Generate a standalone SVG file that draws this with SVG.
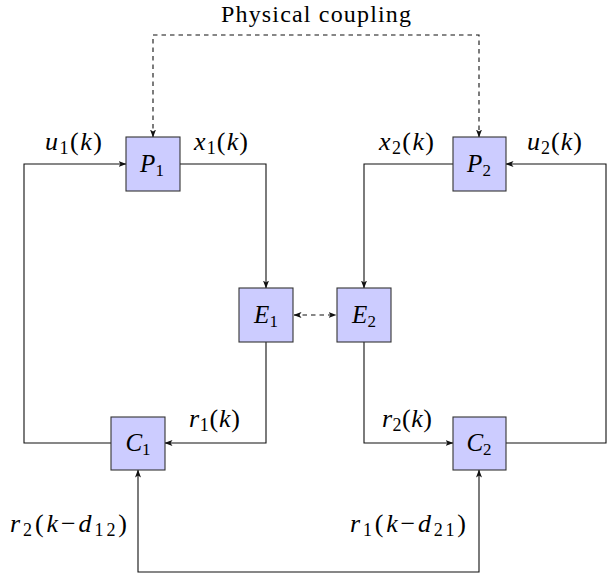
<svg xmlns="http://www.w3.org/2000/svg" width="613" height="579" viewBox="0 0 613 579">
<style>
.box{fill:#ccccff;stroke:#333;stroke-width:1.1}
.ln{fill:none;stroke:#111;stroke-width:1.1}
.dash{fill:none;stroke:#111;stroke-width:1.1;stroke-dasharray:4.5,4}
</style>
<defs>
<marker id="ah" viewBox="0 0 8 8" refX="7.5" refY="4" markerWidth="8" markerHeight="8" markerUnits="userSpaceOnUse" orient="auto-start-reverse">
<path d="M0,1 L8,4 L0,7 L2,4 Z" fill="#111"/>
</marker>
</defs>
<text x="221" y="22" font-family="Liberation Serif" font-size="24" textLength="190" lengthAdjust="spacing">Physical coupling</text>
<g id="connectors">
<path class="dash" d="M153,137 V35 H479 V137" marker-start="url(#ah)" marker-end="url(#ah)"/>
<path class="ln" d="M111,443 H24 V164 H126" marker-end="url(#ah)"/>
<path class="ln" d="M180,164 H266 V288" marker-end="url(#ah)"/>
<path class="ln" d="M266,342 V443 H165" marker-end="url(#ah)"/>
<path class="ln" d="M453,164 H364 V288" marker-end="url(#ah)"/>
<path class="ln" d="M364,342 V443 H453" marker-end="url(#ah)"/>
<path class="ln" d="M506,443 H606 V164 H506" marker-end="url(#ah)"/>
<path class="ln" d="M138,470 V572 H479 V470" marker-start="url(#ah)" marker-end="url(#ah)"/>
<path class="dash" d="M294,315 H336" marker-start="url(#ah)" marker-end="url(#ah)"/>
</g>
<g id="P1"><rect class="box" x="126" y="137" width="54" height="54"/><text x="152" y="172" font-family="Liberation Serif" font-size="25" text-anchor="middle"><tspan font-style="italic">P</tspan><tspan dy="4" font-size="17">1</tspan></text></g>
<g id="P2"><rect class="box" x="453" y="137" width="53" height="54"/><text x="479" y="172" font-family="Liberation Serif" font-size="25" text-anchor="middle"><tspan font-style="italic">P</tspan><tspan dy="4" font-size="17">2</tspan></text></g>
<g id="E1"><rect class="box" x="239" y="288" width="54" height="54"/><text x="266" y="323" font-family="Liberation Serif" font-size="25" text-anchor="middle"><tspan font-style="italic">E</tspan><tspan dy="4" font-size="17">1</tspan></text></g>
<g id="E2"><rect class="box" x="337" y="288" width="54" height="54"/><text x="364" y="323" font-family="Liberation Serif" font-size="25" text-anchor="middle"><tspan font-style="italic">E</tspan><tspan dy="4" font-size="17">2</tspan></text></g>
<g id="C1"><rect class="box" x="111" y="417" width="54" height="53"/><text x="138" y="451" font-family="Liberation Serif" font-size="25" text-anchor="middle"><tspan font-style="italic">C</tspan><tspan dy="4" font-size="17">1</tspan></text></g>
<g id="C2"><rect class="box" x="453" y="417" width="53" height="53"/><text x="479" y="451" font-family="Liberation Serif" font-size="25" text-anchor="middle"><tspan font-style="italic">C</tspan><tspan dy="4" font-size="17">2</tspan></text></g>
<g id="labels" font-family="Liberation Serif" font-size="26">
<text x="45" y="150" font-family="Liberation Serif" textLength="57" lengthAdjust="spacing"><tspan font-style="italic">u</tspan><tspan font-size="18" dy="4">1</tspan><tspan dy="-4">(</tspan><tspan font-style="italic">k</tspan>)</text>
<text x="194" y="150" font-family="Liberation Serif" textLength="54" lengthAdjust="spacing"><tspan font-style="italic">x</tspan><tspan font-size="18" dy="4">1</tspan><tspan dy="-4">(</tspan><tspan font-style="italic">k</tspan>)</text>
<text x="379" y="150" font-family="Liberation Serif" textLength="55" lengthAdjust="spacing"><tspan font-style="italic">x</tspan><tspan font-size="18" dy="4">2</tspan><tspan dy="-4">(</tspan><tspan font-style="italic">k</tspan>)</text>
<text x="527" y="150" font-family="Liberation Serif" textLength="55" lengthAdjust="spacing"><tspan font-style="italic">u</tspan><tspan font-size="18" dy="4">2</tspan><tspan dy="-4">(</tspan><tspan font-style="italic">k</tspan>)</text>
<text x="189" y="427" font-family="Liberation Serif" textLength="51" lengthAdjust="spacing"><tspan font-style="italic">r</tspan><tspan font-size="18" dy="4">1</tspan><tspan dy="-4">(</tspan><tspan font-style="italic">k</tspan>)</text>
<text x="382" y="427" font-family="Liberation Serif" textLength="50" lengthAdjust="spacing"><tspan font-style="italic">r</tspan><tspan font-size="18" dy="4">2</tspan><tspan dy="-4">(</tspan><tspan font-style="italic">k</tspan>)</text>
<text x="10" y="532" font-family="Liberation Serif" textLength="117" lengthAdjust="spacing"><tspan font-style="italic">r</tspan><tspan font-size="18" dy="4">2</tspan><tspan dy="-4">(</tspan><tspan font-style="italic">k</tspan>&#8722;<tspan font-style="italic">d</tspan><tspan font-size="18" dy="4">12</tspan><tspan dy="-4">)</tspan></text>
<text x="350" y="532" font-family="Liberation Serif" textLength="116" lengthAdjust="spacing"><tspan font-style="italic">r</tspan><tspan font-size="18" dy="4">1</tspan><tspan dy="-4">(</tspan><tspan font-style="italic">k</tspan>&#8722;<tspan font-style="italic">d</tspan><tspan font-size="18" dy="4">21</tspan><tspan dy="-4">)</tspan></text>
</g>
</svg>
